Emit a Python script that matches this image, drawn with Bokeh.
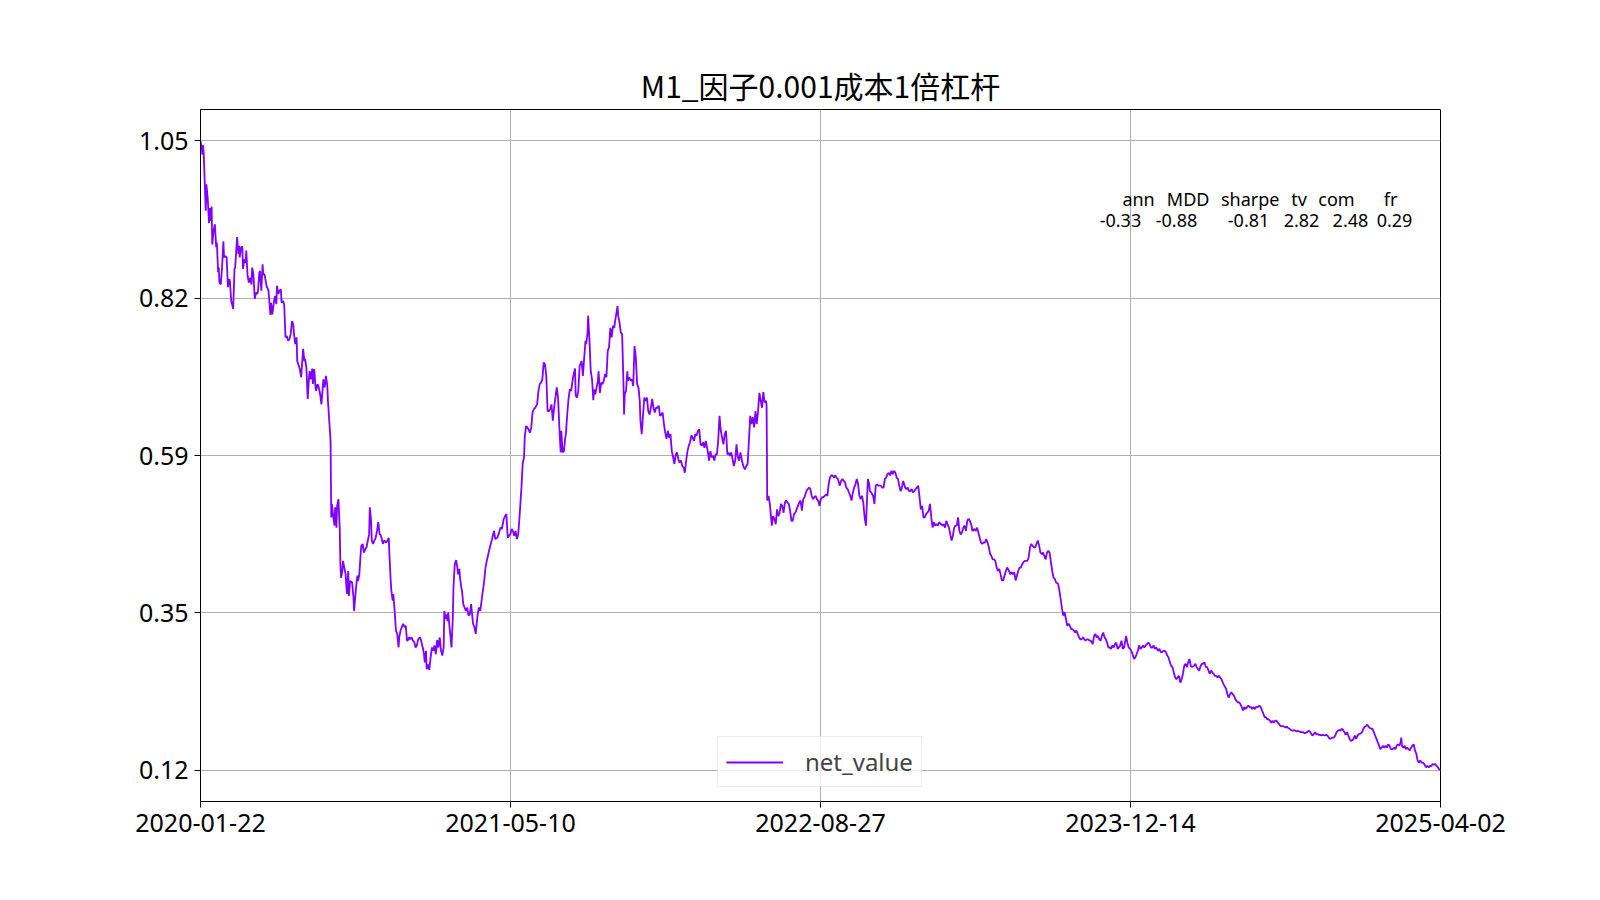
import numpy as np
import pandas as pd
from bokeh.embed import file_html
from bokeh.models import (ColumnDataSource, DatetimeTickFormatter, FixedTicker,
                          Label, Legend, LegendItem, Range1d)
from bokeh.plotting import figure
from bokeh.resources import INLINE

start = pd.Timestamp("2020-01-22")
end = pd.Timestamp("2025-04-02")

# days since 2020-01-22
days = [
    0, 3, 4, 5, 8, 9, 11, 13, 14, 16,
    17, 18, 20, 22, 24, 25, 27, 28, 29, 31,
    33, 35, 36, 38, 40, 42, 44, 45, 47, 50,
    52, 53, 56, 58, 59, 60, 62, 64, 65, 67,
    69, 70, 72, 74, 76, 78, 79, 81, 83, 85,
    87, 88, 90, 91, 93, 95, 96, 98, 101, 104,
    107, 108, 110, 112, 114, 116, 117, 119, 121, 123,
    124, 126, 128, 130, 132, 134, 136, 138, 140, 142,
    143, 145, 147, 148, 152, 154, 155, 157, 159, 160,
    162, 164, 166, 167, 169, 171, 172, 174, 176, 177,
    179, 181, 183, 185, 187, 188, 190, 192, 194, 195,
    # 2020-08
    199, 200, 201, 203, 205, 206, 208, 209, 211, 213,
    214, 215, 217, 218, 220, 222, 224, 226, 227, 229,
    232, 234, 235, 238, 240, 241, 243, 245, 246, 248,
    250, 252, 254, 256, 258, 259, 261, 262, 264, 266,
    268, 270, 272, 274, 275, 277, 279, 281, 284, 286,
    288, 289, 291, 292, 294, 295, 297, 299, 301, 303,
    304, 306, 308, 310, 312, 314, 316, 317, 319, 321,
    323, 325, 327, 329, 331, 333, 336, 338, 340, 342,
    343, 345, 346, 348, 350, 352, 354, 356, 358, 360,
    362, 364, 366, 368, 370, 372, 373, 375, 376, 378,
    379, 381, 382, 384, 386, 387, 389, 391, 393, 394,
    396, 397, 399, 400, 402, 404, 406, 408, 410, 412,
    414, 416, 417, 419, 421, 422, 424, 426, 428, 430,
    432, 434, 436, 438, 442,
    # 2021-04
    446, 449, 451, 454, 456, 459, 461, 464, 466, 468,
    470, 472, 474, 476, 478, 480, 482, 484, 486, 488,
    491, 493, 495, 496, 498, 500, 502, 504, 506, 508,
    510, 512, 515, 517, 519, 521, 523, 525, 527, 529,
    531, 533, 535, 537, 539, 541, 543, 545, 547, 549,
    551, 552, 554, 556, 558, 559, 561, 563, 565, 567,
    570, 572, 573, 574, 576, 578, 580, 581, 583, 585,
    587, 589, 590, 592, 593, 595, 597, 599, 601, 602,
    604, 606, 608, 609, 611, 613, 615, 617, 619, 621,
    623, 625, 627, 629, 631, 633, 634, 636, 638, 639,
    641, 643, 645, 647, 648, 649, 651, 653, 654, 656,
    658, 660, 662, 664, 666, 668, 670, 672, 673, 675,
    677, 679, 681, 683, 685, 687, 689, 691, 693, 695,
    697, 699, 701, 703, 705, 707, 709, 711, 713, 715,
    717, 719, 721, 723, 725, 727, 729, 731, 733, 735,
    737, 739, 741, 743, 745, 747, 749, 751, 753, 755,
    757, 759, 761, 763, 765, 767, 769, 771, 773, 776,
    778, 780, 782, 784, 786, 788, 790, 792, 794, 796,
    798, 800, 802, 804, 806, 808, 810, 812, 814, 816,
    818, 820, 822, 824, 826, 829, 831, 833, 835, 837,
    839, 841, 843, 845, 847, 849, 851, 853, 855,
    # 2022-06
    859, 861, 863, 865, 866, 867, 869, 871, 874, 876,
    878, 880, 882, 884, 886, 888, 890, 892, 894, 896,
    898, 900, 902, 904, 906, 908, 910, 912, 914, 916,
    918, 920, 922, 924, 927, 929, 931, 933, 935, 937,
    939, 941, 943, 945, 947, 949, 951, 953, 955, 957,
    959, 961, 963, 965, 967, 969, 971, 973, 975, 978,
    980, 982, 984, 986, 988, 990, 992, 994, 996, 998,
    1000, 1002, 1004, 1006, 1008, 1010, 1012, 1014, 1016, 1018,
    1019, 1021, 1023, 1024, 1026, 1029, 1031, 1033, 1035, 1037,
    1039, 1041, 1043, 1045, 1047, 1049, 1051, 1053, 1055, 1057,
    1059, 1061, 1063, 1065, 1067, 1069, 1071, 1073, 1075, 1078,
    1080, 1082, 1084, 1086, 1088, 1090, 1092, 1094, 1096, 1098,
    1100, 1102, 1104, 1106, 1108, 1110, 1112, 1114, 1116, 1118,
    1120, 1122, 1124, 1126, 1128, 1130, 1133, 1135, 1137, 1139,
    1141, 1143, 1145, 1147, 1149, 1151, 1153, 1155, 1157, 1159,
    1161, 1163, 1165, 1167, 1169, 1171, 1173, 1175, 1177, 1179,
    1181, 1184, 1186, 1188, 1190, 1192, 1194, 1196, 1198, 1200,
    1202, 1204, 1206, 1208, 1210, 1212, 1214, 1216, 1218, 1220,
    1222, 1224, 1226, 1228, 1230, 1232, 1234, 1237, 1239, 1241,
    1243, 1245, 1247, 1249, 1251, 1253, 1255, 1257, 1259, 1261,
    1263, 1265, 1267, 1269, 1271, 1273, 1275, 1277, 1279, 1281,
    1283,
    # 2023-07
    1285, 1287, 1289, 1291, 1293, 1295, 1297, 1299, 1301, 1303,
    1305, 1307, 1309, 1312, 1314, 1316, 1318, 1320, 1322, 1324,
    1326, 1328, 1330, 1332, 1334, 1336, 1338, 1340, 1342, 1344,
    1346, 1348, 1350, 1352, 1354, 1356, 1358, 1360, 1362, 1365,
    1367, 1369, 1371, 1373, 1375, 1377, 1379, 1381, 1383, 1385,
    1387, 1389, 1391, 1393, 1395, 1397, 1399, 1401, 1403, 1405,
    1407, 1409, 1411, 1413, 1416, 1418, 1420, 1422, 1424, 1426,
    1428, 1430, 1432, 1434, 1436, 1438, 1440, 1442, 1444, 1446,
    1448, 1450, 1452, 1454, 1456, 1458, 1460, 1462, 1465, 1467,
    1469, 1471, 1473, 1475, 1477, 1479, 1481, 1483, 1485, 1487,
    1489, 1491, 1493, 1495, 1497, 1499, 1501, 1503, 1505, 1507,
    1509, 1511, 1513, 1515, 1517, 1520, 1522, 1524, 1526, 1528,
    1530, 1532, 1534, 1536, 1538, 1540, 1542, 1544, 1546, 1548,
    1550, 1552, 1554, 1556, 1558,
    # 2024-05
    1562, 1564, 1566, 1569, 1571, 1573, 1575, 1577, 1579, 1581,
    1583, 1585, 1587, 1589, 1591, 1593, 1595, 1597, 1599, 1601,
    1603, 1605, 1607, 1609, 1611, 1613, 1615, 1617, 1620, 1622,
    1624, 1626, 1628, 1630, 1632, 1634, 1636, 1638, 1640, 1642,
    1644, 1646, 1648, 1650, 1652, 1654, 1656, 1658, 1660, 1662,
    1664, 1666, 1668, 1671, 1673, 1675, 1677, 1679, 1681, 1683,
    1685, 1687, 1689, 1691, 1693, 1695, 1697, 1699, 1701, 1703,
    1705, 1707, 1709, 1711, 1713, 1715, 1717, 1720, 1722, 1724,
    1726, 1728, 1730, 1732, 1734, 1736, 1738, 1740, 1742, 1744,
    1746, 1748, 1750, 1752, 1754, 1756, 1758, 1760, 1762, 1764,
    1766, 1768, 1770, 1772, 1775, 1777, 1779, 1781, 1783, 1785,
    1787, 1789, 1791,
    # 2025-01
    1793, 1795, 1797, 1799, 1801, 1803, 1805, 1807, 1809, 1811,
    1813, 1815, 1817, 1819, 1821, 1824, 1826, 1828, 1830, 1832,
    1834, 1836, 1837, 1838, 1840, 1842, 1844, 1846, 1848, 1850,
    1852, 1854, 1856, 1858, 1860, 1862, 1864, 1866, 1868, 1870,
    1872, 1875, 1877, 1879, 1881, 1883, 1885, 1887, 1889, 1891,
    1893, 1895, 1897,
]

net_value = [
    1.050, 1.030, 1.044, 1.030, 0.947, 0.986, 0.966, 0.929, 0.951, 0.932,
    0.953, 0.897, 0.917, 0.927, 0.893, 0.900, 0.856, 0.863, 0.841, 0.838,
    0.863, 0.902, 0.878, 0.880, 0.878, 0.834, 0.846, 0.843, 0.814, 0.802,
    0.861, 0.863, 0.908, 0.883, 0.895, 0.878, 0.893, 0.894, 0.861, 0.875,
    0.870, 0.888, 0.851, 0.841, 0.848, 0.838, 0.863, 0.853, 0.817, 0.826,
    0.824, 0.829, 0.856, 0.858, 0.829, 0.868, 0.853, 0.853, 0.836, 0.829,
    0.793, 0.811, 0.794, 0.810, 0.821, 0.809, 0.836, 0.824, 0.829, 0.831,
    0.811, 0.814, 0.809, 0.760, 0.762, 0.755, 0.757, 0.765, 0.784, 0.779,
    0.765, 0.750, 0.760, 0.725, 0.713, 0.701, 0.715, 0.743, 0.725, 0.728,
    0.715, 0.669, 0.701, 0.710, 0.698, 0.714, 0.691, 0.713, 0.686, 0.681,
    0.691, 0.686, 0.676, 0.661, 0.686, 0.698, 0.686, 0.703, 0.688, 0.666,
    # 2020-08
    0.607, 0.494, 0.514, 0.496, 0.482, 0.509, 0.479, 0.511, 0.521, 0.479,
    0.425, 0.405, 0.415, 0.430, 0.420, 0.410, 0.381, 0.415, 0.378, 0.400,
    0.398, 0.376, 0.356, 0.391, 0.408, 0.400, 0.410, 0.440, 0.452, 0.455,
    0.442, 0.447, 0.450, 0.460, 0.469, 0.509, 0.489, 0.460, 0.455, 0.460,
    0.464, 0.474, 0.487, 0.469, 0.469, 0.464, 0.455, 0.460, 0.457, 0.460,
    0.464, 0.440, 0.400, 0.386, 0.371, 0.381, 0.356, 0.327, 0.322, 0.302,
    0.317, 0.327, 0.332, 0.337, 0.332, 0.334, 0.312, 0.312, 0.317, 0.314,
    0.317, 0.312, 0.310, 0.302, 0.305, 0.314, 0.317, 0.310, 0.302, 0.292,
    0.280, 0.297, 0.270, 0.277, 0.269, 0.287, 0.302, 0.297, 0.305, 0.292,
    0.313, 0.302, 0.317, 0.297, 0.290, 0.302, 0.356, 0.344, 0.351, 0.341,
    0.354, 0.332, 0.322, 0.302, 0.346, 0.391, 0.425, 0.431, 0.420, 0.410,
    0.418, 0.405, 0.391, 0.386, 0.366, 0.361, 0.356, 0.361, 0.349, 0.351,
    0.366, 0.346, 0.337, 0.332, 0.322, 0.332, 0.351, 0.361, 0.356, 0.371,
    0.386, 0.400, 0.420, 0.430, 0.447,
    # 2021-04
    0.462, 0.474, 0.462, 0.464, 0.469, 0.479, 0.477, 0.492, 0.496, 0.499,
    0.464, 0.467, 0.469, 0.477, 0.474, 0.467, 0.474, 0.462, 0.469, 0.494,
    0.538, 0.575, 0.583, 0.612, 0.629, 0.627, 0.624, 0.619, 0.627, 0.649,
    0.654, 0.656, 0.661, 0.681, 0.691, 0.693, 0.698, 0.723, 0.720, 0.703,
    0.651, 0.651, 0.654, 0.661, 0.637, 0.656, 0.671, 0.686, 0.671, 0.627,
    0.590, 0.622, 0.590, 0.592, 0.612, 0.617, 0.646, 0.669, 0.683, 0.681,
    0.701, 0.710, 0.714, 0.674, 0.671, 0.681, 0.718, 0.720, 0.725, 0.703,
    0.730, 0.755, 0.750, 0.765, 0.792, 0.757, 0.710, 0.698, 0.667, 0.683,
    0.676, 0.686, 0.696, 0.710, 0.678, 0.693, 0.691, 0.696, 0.706, 0.701,
    0.740, 0.745, 0.774, 0.760, 0.777, 0.774, 0.782, 0.794, 0.806, 0.792,
    0.782, 0.767, 0.765, 0.696, 0.646, 0.676, 0.681, 0.710, 0.696, 0.701,
    0.696, 0.698, 0.688, 0.747, 0.730, 0.691, 0.686, 0.666, 0.637, 0.617,
    0.646, 0.671, 0.666, 0.671, 0.651, 0.646, 0.656, 0.669, 0.656, 0.649,
    0.656, 0.656, 0.659, 0.644, 0.646, 0.649, 0.632, 0.619, 0.610, 0.622,
    0.612, 0.617, 0.592, 0.583, 0.573, 0.587, 0.590, 0.580, 0.575, 0.578,
    0.570, 0.568, 0.560, 0.578, 0.592, 0.600, 0.605, 0.615, 0.612, 0.607,
    0.617, 0.615, 0.622, 0.624, 0.602, 0.600, 0.605, 0.597, 0.607, 0.592,
    0.578, 0.592, 0.583, 0.585, 0.578, 0.587, 0.587, 0.607, 0.644, 0.622,
    0.612, 0.602, 0.617, 0.622, 0.587, 0.590, 0.585, 0.590, 0.580, 0.570,
    0.578, 0.602, 0.583, 0.578, 0.590, 0.575, 0.568, 0.565, 0.570, 0.573,
    0.607, 0.644, 0.632, 0.642, 0.627, 0.651, 0.632, 0.651, 0.678,
    # 2022-06
    0.656, 0.679, 0.664, 0.666, 0.661, 0.519, 0.526, 0.514, 0.482, 0.496,
    0.492, 0.484, 0.506, 0.496, 0.501, 0.514, 0.511, 0.501, 0.516, 0.519,
    0.516, 0.514, 0.504, 0.489, 0.489, 0.499, 0.501, 0.506, 0.511, 0.516,
    0.519, 0.504, 0.521, 0.524, 0.533, 0.536, 0.538, 0.536, 0.526, 0.521,
    0.524, 0.526, 0.521, 0.519, 0.511, 0.521, 0.524, 0.524, 0.526, 0.528,
    0.526, 0.543, 0.553, 0.556, 0.556, 0.553, 0.556, 0.553, 0.551, 0.541,
    0.548, 0.551, 0.548, 0.546, 0.538, 0.536, 0.531, 0.526, 0.519, 0.531,
    0.538, 0.543, 0.551, 0.543, 0.526, 0.521, 0.526, 0.516, 0.494, 0.482,
    0.504, 0.551, 0.543, 0.533, 0.531, 0.526, 0.514, 0.541, 0.543, 0.541,
    0.541, 0.541, 0.538, 0.538, 0.551, 0.553, 0.558, 0.560, 0.556, 0.563,
    0.558, 0.563, 0.560, 0.553, 0.551, 0.541, 0.533, 0.538, 0.548, 0.538,
    0.536, 0.538, 0.533, 0.533, 0.536, 0.531, 0.533, 0.536, 0.538, 0.541,
    0.524, 0.506, 0.511, 0.494, 0.494, 0.499, 0.501, 0.504, 0.514, 0.494,
    0.479, 0.487, 0.482, 0.484, 0.482, 0.487, 0.484, 0.482, 0.484, 0.479,
    0.489, 0.484, 0.479, 0.469, 0.460, 0.467, 0.479, 0.482, 0.482, 0.494,
    0.474, 0.469, 0.472, 0.479, 0.482, 0.474, 0.489, 0.492, 0.489, 0.484,
    0.474, 0.477, 0.474, 0.479, 0.472, 0.464, 0.457, 0.455, 0.457, 0.457,
    0.462, 0.457, 0.450, 0.440, 0.437, 0.432, 0.432, 0.430, 0.420, 0.415,
    0.418, 0.410, 0.401, 0.401, 0.408, 0.415, 0.420, 0.415, 0.410, 0.413,
    0.410, 0.413, 0.401, 0.408, 0.415, 0.420, 0.420, 0.425, 0.428, 0.430,
    0.430, 0.430, 0.435, 0.450, 0.455, 0.452, 0.450, 0.450, 0.455, 0.460,
    0.452,
    # 2023-07
    0.442, 0.440, 0.442, 0.437, 0.432, 0.442, 0.445, 0.442, 0.428, 0.415,
    0.405, 0.403, 0.398, 0.396, 0.386, 0.373, 0.359, 0.349, 0.354, 0.344,
    0.334, 0.337, 0.334, 0.329, 0.329, 0.327, 0.324, 0.327, 0.322, 0.317,
    0.314, 0.314, 0.317, 0.314, 0.312, 0.314, 0.314, 0.312, 0.312, 0.307,
    0.319, 0.322, 0.317, 0.319, 0.314, 0.312, 0.319, 0.324, 0.317, 0.314,
    0.309, 0.302, 0.302, 0.300, 0.305, 0.302, 0.307, 0.309, 0.300, 0.302,
    0.305, 0.312, 0.300, 0.302, 0.319, 0.309, 0.302, 0.300, 0.297, 0.292,
    0.285, 0.287, 0.292, 0.297, 0.305, 0.300, 0.302, 0.305, 0.302, 0.305,
    0.307, 0.309, 0.307, 0.302, 0.302, 0.305, 0.300, 0.302, 0.297, 0.300,
    0.295, 0.295, 0.297, 0.297, 0.295, 0.290, 0.287, 0.280, 0.275, 0.273,
    0.265, 0.258, 0.255, 0.258, 0.260, 0.250, 0.255, 0.263, 0.275, 0.278,
    0.273, 0.280, 0.285, 0.275, 0.273, 0.275, 0.278, 0.273, 0.270, 0.268,
    0.275, 0.278, 0.278, 0.280, 0.273, 0.273, 0.268, 0.263, 0.268, 0.265,
    0.263, 0.260, 0.260, 0.258, 0.260,
    # 2024-05
    0.255, 0.250, 0.246, 0.241, 0.233, 0.228, 0.233, 0.236, 0.233, 0.231,
    0.226, 0.223, 0.221, 0.221, 0.218, 0.214, 0.209, 0.214, 0.211, 0.214,
    0.216, 0.214, 0.214, 0.211, 0.214, 0.211, 0.214, 0.214, 0.216, 0.214,
    0.209, 0.204, 0.199, 0.199, 0.196, 0.196, 0.194, 0.191, 0.194, 0.191,
    0.194, 0.194, 0.191, 0.189, 0.186, 0.186, 0.186, 0.185, 0.184, 0.185,
    0.183, 0.182, 0.180, 0.179, 0.180, 0.179, 0.178, 0.179, 0.178, 0.177,
    0.177, 0.177, 0.175, 0.176, 0.177, 0.179, 0.178, 0.175, 0.172, 0.174,
    0.177, 0.174, 0.174, 0.173, 0.173, 0.172, 0.173, 0.172, 0.173, 0.172,
    0.169, 0.167, 0.168, 0.169, 0.169, 0.172, 0.177, 0.179, 0.180, 0.179,
    0.182, 0.180, 0.177, 0.173, 0.177, 0.172, 0.167, 0.164, 0.165, 0.167,
    0.172, 0.167, 0.172, 0.174, 0.175, 0.177, 0.182, 0.185, 0.186, 0.188,
    0.185, 0.183, 0.182,
    # 2025-01
    0.182, 0.177, 0.172, 0.167, 0.162, 0.157, 0.152, 0.154, 0.157, 0.154,
    0.157, 0.154, 0.159, 0.157, 0.152, 0.152, 0.154, 0.152, 0.157, 0.159,
    0.157, 0.162, 0.169, 0.157, 0.154, 0.157, 0.152, 0.154, 0.152, 0.150,
    0.154, 0.157, 0.159, 0.150, 0.145, 0.135, 0.132, 0.135, 0.132, 0.132,
    0.130, 0.125, 0.127, 0.125, 0.127, 0.127, 0.130, 0.129, 0.130, 0.127,
    0.125, 0.122, 0.121,
]

stat_names = ["ann", "MDD", "sharpe", "tv", "com", "fr"]
stat_values = ["-0.33", "-0.88", "-0.81", "2.82", "2.48", "0.29"]
y_tick_labels = ["0.12", "0.35", "0.59", "0.82", "1.05"]

assert len(days) == len(net_value), (len(days), len(net_value))

dates = start + pd.to_timedelta(days, unit="D")
source = ColumnDataSource(data=dict(date=dates, net_value=net_value))

lo, hi = min(net_value), max(net_value)
pad = (hi - lo) * 0.05
y_lo, y_hi = lo - pad, hi + pad

p = figure(width=1584, height=884,
           x_axis_type="datetime",
           x_range=Range1d(start, end),
           y_range=Range1d(y_lo, y_hi),
           output_backend="svg",
           toolbar_location=None,
           min_border_left=200, min_border_right=144,
           min_border_top=109, min_border_bottom=83)

p.title.text = "M1_因子0.001成本1倍杠杆"
p.title.align = "center"
p.title.text_font = "Noto Sans CJK SC"
p.title.text_font_size = "30px"
p.title.text_font_style = "normal"
p.title.text_color = "black"
p.title.standoff = 5

line = p.line("date", "net_value", source=source,
              line_color="#8000ff", line_width=1.8)

# ticks like matplotlib linspace(5)
x_ticks = pd.date_range(start, end, periods=5)
x_ticks_ms = [t.value / 1e6 for t in x_ticks]
p.xaxis.ticker = FixedTicker(ticks=x_ticks_ms)
fmt = "%Y-%m-%d"
p.xaxis.formatter = DatetimeTickFormatter(
    milliseconds=fmt, seconds=fmt, minsec=fmt, minutes=fmt, hourmin=fmt,
    hours=fmt, days=fmt, months=fmt, years=fmt)

y_ticks = list(np.linspace(lo, hi, 5))
p.yaxis.ticker = FixedTicker(ticks=y_ticks)
p.yaxis.major_label_overrides = {t: lab for t, lab in zip(y_ticks, y_tick_labels)}

for ax in (p.xaxis, p.yaxis):
    ax.major_label_text_font = "Noto Sans"
    ax.major_label_text_font_size = "25px"
    ax.major_label_text_color = "black"
    ax.axis_line_color = "black"
    ax.major_tick_line_color = "black"
    ax.major_tick_out = 6
    ax.major_tick_in = 0
    ax.minor_tick_out = 0
    ax.minor_tick_in = 0
    ax.major_label_standoff = 6

p.xgrid.grid_line_color = "#b0b0b0"
p.ygrid.grid_line_color = "#b0b0b0"
p.xgrid.grid_line_width = 1
p.ygrid.grid_line_width = 1
p.outline_line_color = "black"
p.outline_line_width = 1

legend = Legend(items=[LegendItem(label="net_value", renderers=[line])],
                location=(517, 14))
legend.label_text_font = "Noto Sans"
legend.label_text_font_size = "24px"
legend.glyph_width = 57
legend.glyph_height = 20
legend.label_standoff = 22
legend.padding = 8
legend.margin = 0
legend.border_line_color = "#dddddd"
legend.background_fill_alpha = 0.8
p.add_layout(legend)

# stats table in axes fractions
start_ms, end_ms = x_ticks_ms[0], x_ticks_ms[-1]
name_fx = [0.7565, 0.7965, 0.8465, 0.8860, 0.9161, 0.9597]
value_fx = [0.7419, 0.7871, 0.8452, 0.8879, 0.9274, 0.9629]
for row_fy, texts, fxs in ((0.8700, stat_names, name_fx),
                           (0.8390, stat_values, value_fx)):
    for txt, fx in zip(texts, fxs):
        p.add_layout(Label(x=start_ms + fx * (end_ms - start_ms),
                           y=y_lo + row_fy * (y_hi - y_lo),
                           text=txt, text_align="center",
                           text_baseline="middle",
                           text_font="Noto Sans",
                           text_font_size="18px",
                           text_color="black"))

open("out.html", "w").write(file_html(p, INLINE))
